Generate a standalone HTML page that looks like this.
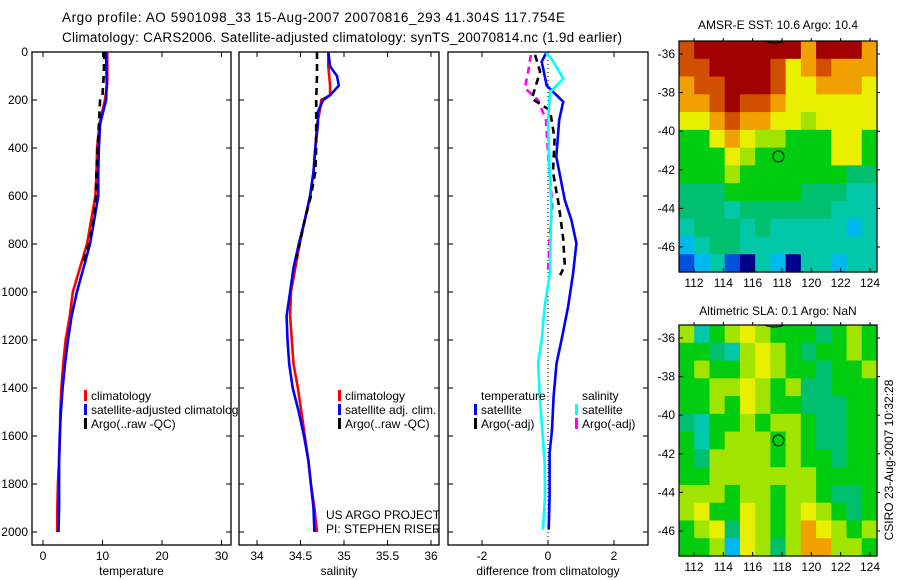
<!DOCTYPE html>
<html><head><meta charset="utf-8"><style>
body{margin:0;background:#fff}
svg{display:block;font-family:"Liberation Sans",sans-serif;font-size:12px}
</style></head><body>
<svg id="fig" width="900" height="580" viewBox="0 0 900 580">
<rect width="900" height="580" fill="#fff"/>
<text x="62" y="22" font-size="13.5" textLength="503">Argo profile: AO 5901098_33 15-Aug-2007 20070816_293 41.304S 117.754E</text>
<text x="62" y="42" font-size="13.5" textLength="560">Climatology: CARS2006. Satellite-adjusted climatology: synTS_20070814.nc (1.9d earlier)</text>
<text x="778" y="29" text-anchor="middle">AMSR-E SST: 10.6 Argo: 10.4</text>
<text x="778" y="315" text-anchor="middle">Altimetric SLA: 0.1 Argo: NaN</text>
<text transform="translate(893,460) rotate(-90)" text-anchor="middle">CSIRO 23-Aug-2007 10:32:28</text>
<defs>
<clipPath id="c1"><rect x="32" y="52" width="207" height="493"/></clipPath>
<clipPath id="c2"><rect x="239" y="52" width="200" height="493"/></clipPath>
<clipPath id="c3"><rect x="448" y="52" width="200" height="493"/></clipPath>
</defs>
<g id="g"></g>
</svg>
<script>
// ---- data ----
const depthTicks=[0,200,400,600,800,1000,1200,1400,1600,1800,2000];
const tempTicks=[0,10,20,30];
const salTicks=[34,34.5,35,35.5,36];
const salTickLabels=["34","34.5","35","35.5","36"];
const diffTicks=[-2,0,2];
const tClimDepth=[0,130,200,300,400,500,600,700,800,900,1000,1100,1200,1300,1400,1500,1600,1700,1800,1900,2000];
const tClim=[10.8,10.8,10.4,9.5,9.1,9.0,8.8,8.1,7.4,6.2,5.0,4.5,3.8,3.4,3.1,2.9,2.85,2.7,2.5,2.4,2.4];
const tSat=[10.6,10.7,10.6,9.6,9.4,9.3,9.3,8.6,7.9,6.8,5.7,4.8,4.2,3.7,3.3,3.0,2.8,2.7,2.7,2.7,2.6];
const tArgoDepth=[0,100,180,200,300,400,500,600,700,800,870];
const tArgo=[10.3,10.2,10.0,9.6,9.4,9.2,9.0,8.9,8.5,7.7,6.8];
const sDepth=[0,60,100,140,180,200,250,300,400,500,600,700,800,900,1000,1100,1200,1300,1400,1500,1600,1700,1800,1900,2000];
const sClim=[34.82,34.82,34.83,34.84,34.84,34.74,34.72,34.69,34.67,34.65,34.61,34.55,34.49,34.44,34.39,34.38,34.40,34.42,34.47,34.51,34.55,34.59,34.62,34.66,34.69];
const sSat=[34.82,34.84,34.92,34.94,34.84,34.76,34.70,34.70,34.67,34.65,34.61,34.55,34.48,34.42,34.38,34.34,34.35,34.37,34.41,34.48,34.54,34.59,34.62,34.65,34.66];
const sArgoDepth=[0,100,200,300,400,500,600,700,800,860];
const sArgo=[34.69,34.69,34.68,34.68,34.68,34.67,34.62,34.55,34.49,34.45];
const dTsDepth=[5,40,140,207,283,436,617,700,797,922,1061,1200,1296,1435,1574,1671,1851,1990];
const dTsat=[-0.06,-0.19,-0.04,0.46,0.34,0.25,0.51,0.71,0.86,0.76,0.61,0.41,0.26,0.17,0.12,0.05,0.05,0.02];
const dSsDepth=[5,28,111,167,292,500,640,917,1060,1200,1296,1435,1713,1851,1990];
const dSsat=[-0.06,0.11,0.46,0.06,0.0,0.05,0.1,0.06,-0.1,-0.19,-0.3,-0.25,-0.1,-0.09,-0.15];
const dTaDepth=[12,82,150,194,243,360,500,640,778,889,930];
const dTargo=[-0.39,-0.24,-0.39,-0.49,0.06,0.2,0.15,0.33,0.46,0.51,0.37];
const dSaDepth=[12,82,150,200,283,360,500,640,778,917];
const dSargo=[-0.52,-0.6,-0.7,-0.3,-0.06,-0.03,0.05,0.13,0.05,0.0];
const lonTicks=[112,114,116,118,120,122,124];
const latTicks=[-36,-38,-40,-42,-44,-46];
const sstGrid=["9AAAAAAA8AAA8","99AAAA9789888","899AAA9778887","889A998777777","7789887767777","5578766555775","5557655555775","5556555555544","4445555544433","4443444444333","3444343333323","2344333333333","1231032033233"];
const slaGrid=["6356765554565","5543676545565","5655676554556","5566765644555","5565765544455","4355656654455","5356665654455","5466665655455","5566666665555","6665665665445","6755765676545","5674765687656","5562764688665"];
const profLat=-41.304, profLon=117.754;
// ---- helpers ----
const NS="http://www.w3.org/2000/svg";
const G=document.getElementById('g');
function mk(tag,attrs,parent){const e=document.createElementNS(NS,tag);for(const k in attrs)e.setAttribute(k,attrs[k]);(parent||G).appendChild(e);return e;}
const yD=d=>52+d*0.24;
function lin(d0,d1,p0,p1){return v=>p0+(v-d0)*(p1-p0)/(d1-d0);}
const panels=[
 {x0:32,x1:231,sx:lin(0,10,43,102.5),ticks:tempTicks,lab:tempTicks.map(String),xl:"temperature",clip:"c1",name:"temperature-panel"},
 {x0:239,x1:439,sx:lin(34,35,257,344),ticks:salTicks,lab:salTickLabels,xl:"salinity",clip:"c2",name:"salinity-panel"},
 {x0:448,x1:648,sx:lin(0,2,548,614),ticks:diffTicks,lab:diffTicks.map(String),xl:"difference from climatology",clip:"c3",name:"difference-panel"}];
panels.forEach((p,i)=>{
 const g=mk('g',{});
 
 
 const r=mk('rect',{x:p.x0,y:52,width:p.x1-p.x0,height:493,fill:'none',stroke:'#000','stroke-width':1.3},g);
 
 
 depthTicks.forEach(d=>{
  mk('line',{x1:p.x0,x2:p.x0+5,y1:yD(d),y2:yD(d),stroke:'#000'},g);
  mk('line',{x1:p.x1,x2:p.x1-5,y1:yD(d),y2:yD(d),stroke:'#000'},g);
  if(i===0){const t=mk('text',{x:28,y:yD(d)+4,'text-anchor':'end'},g);t.textContent=d;
   
   }
 });
 p.ticks.forEach((v,k)=>{const x=p.sx(v);
  mk('line',{x1:x,x2:x,y1:545,y2:540,stroke:'#000'},g);
  mk('line',{x1:x,x2:x,y1:52,y2:57,stroke:'#000'},g);
  const t=mk('text',{x:x,y:560,'text-anchor':'middle'},g);t.textContent=p.lab[k];
  
  
 });
 const xl=mk('text',{x:(p.x0+p.x1)/2,y:575,'text-anchor':'middle'},g);xl.textContent=p.xl;
 
 
});
function line(p,ds,vs,color,dash,name){
 const pts=ds.map((d,k)=>p.sx(vs[k]).toFixed(1)+','+yD(d).toFixed(1)).join(' ');
 const a={points:pts,fill:'none',stroke:color,'stroke-width':2.6,'clip-path':'url(#'+p.clip+')'};
 if(dash)a['stroke-dasharray']='7,5';
 const e=mk('polyline',a);
 
 
}
const [P1,P2,P3]=panels;
const z=mk('line',{x1:P3.sx(0),x2:P3.sx(0),y1:52,y2:545,stroke:'#000','stroke-dasharray':'1,3'});


line(P1,tClimDepth,tClim,'#f00',false,'temp-climatology-line');
line(P1,tClimDepth,tSat,'#00f',false,'temp-satellite-line');
line(P1,tArgoDepth,tArgo,'#000',true,'temp-argo-line');
line(P2,sDepth,sClim,'#f00',false,'sal-climatology-line');
line(P2,sDepth,sSat,'#00f',false,'sal-satellite-line');
line(P2,sArgoDepth,sArgo,'#000',true,'sal-argo-line');
line(P3,dSaDepth,dSargo,'#f0f',true,'diff-sal-argo-line');
line(P3,dTsDepth,dTsat,'#00f',false,'diff-temp-satellite-line');
line(P3,dTaDepth,dTargo,'#000',true,'diff-temp-argo-line');
line(P3,dSsDepth,dSsat,'#0ff',false,'diff-sal-satellite-line');
// legends
function leg(x,y,color,txt,clip){
 if(color){const m=mk('rect',{x:x-7,y:y-8,width:3,height:11,fill:color});
  
  }
 const t=mk('text',{x:x,y:y+2});t.textContent=txt;
 if(clip)t.setAttribute('clip-path','url(#'+clip+')');
 
 
}
leg(91,398,'#f00','climatology','c1');leg(91,412,'#00f','satellite-adjusted climatology','c1');leg(91,426,'#000','Argo(..raw -QC)','c1');
leg(345,398,'#f00','climatology');leg(345,412,'#00f','satellite adj. clim.');leg(345,426,'#000','Argo(..raw -QC)');
leg(481,398,null,'temperature');leg(481,412,'#00f','satellite');leg(481,426,'#000','Argo(-adj)');
leg(582,398,null,'salinity');leg(582,412,'#0ff','satellite');leg(582,426,'#f0f','Argo(-adj)');
leg(326,517,null,'US ARGO PROJECT','c2');leg(326,531,null,'PI: STEPHEN RISER','c2');
// maps
const cmap={'0':'#00008c','1':'#0050e0','2':'#00b8f0','3':'#00c8a8','4':'#00c070','5':'#00cc10','6':'#a0e400','7':'#e8f000','8':'#f0a000','9':'#d05000','A':'#a00000'};
function map(top,grid,name){
 const x0=679,x1=877,y1=top+231;
 const lx=lin(112,124,694,870), ly=lin(-36,-46,top+13,top+206);
 const g=mk('g',{});
 
 
 const rows=grid.length;
 grid.forEach((row,r)=>{const cw=(x1-x0)/row.length,ch=(y1-top)/rows;
  for(let c=0;c<row.length;c++){const e=mk('rect',{x:x0+c*cw,y:top+r*ch,width:cw+0.6,height:ch+0.6,fill:cmap[row[c]]},g);
   
   }
 });
 mk('rect',{x:x0,y:top,width:x1-x0,height:231,fill:'none',stroke:'#000','stroke-width':1.2},g);
 lonTicks.forEach(v=>{const x=lx(v);mk('line',{x1:x,x2:x,y1:y1,y2:y1-4,stroke:'#000'},g);mk('line',{x1:x,x2:x,y1:top,y2:top-3,stroke:'#000'},g);
  const t=mk('text',{x:x,y:y1+15,'text-anchor':'middle'},g);t.textContent=v;
  
  });
 latTicks.forEach(v=>{const y=ly(v);mk('line',{x1:x0,x2:x0+4,y1:y,y2:y,stroke:'#000'},g);mk('line',{x1:x1,x2:x1+3,y1:y,y2:y,stroke:'#000'},g);
  const t=mk('text',{x:x0-4,y:y+4,'text-anchor':'end'},g);t.textContent=v;
  
  });
 mk('path',{d:`M${lx(116.8)},${top} q10,4 20,0`,fill:'none',stroke:'#000'},g);
 const c=mk('circle',{cx:lx(profLon),cy:ly(profLat),r:5.5,fill:'none',stroke:'#000'},g);
 
 
}
map(41,sstGrid,'sst-map');
map(325,slaGrid,'sla-map');
</script>
</body></html>
